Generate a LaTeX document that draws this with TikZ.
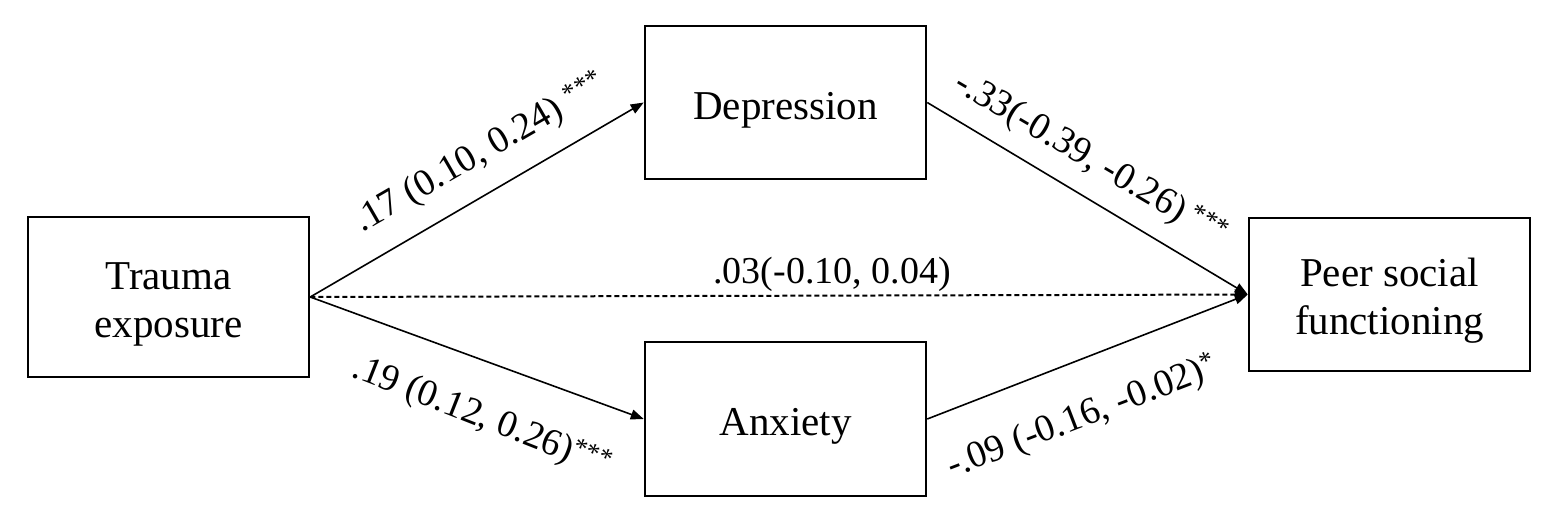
\documentclass[tikz,border=0pt]{standalone}
\usepackage{fontspec}
\setmainfont{Liberation Serif}
\usetikzlibrary{arrows.meta}
\begin{document}
\begin{tikzpicture}[x=1pt,y=-1pt,
  box/.style={draw, line width=2.5pt, inner sep=0pt, align=center,
    minimum width=281pt, text height=42pt, text depth=9pt,
    font=\fontsize{41}{48}\selectfont},
  box2/.style={box, text height=89pt},
  lbl/.style={inner sep=0pt, font=\fontsize{38}{45}\selectfont},
  arr/.style={line width=1.6pt, -{Triangle[length=13pt,width=10pt]}},
  dsh/.style={arr, line width=2pt, dash pattern=on 5pt off 3pt}]
\useasboundingbox (0,0) rectangle (1559,523);
\node[box2, minimum height=160pt] (trauma) at (168.5,297) {Trauma\\exposure};
\node[box, minimum height=153pt] (dep) at (785.5,102.5) {Depression};
\node[box, minimum height=154pt] (anx) at (785.5,419) {Anxiety};
\node[box2, minimum height=153pt] (peer) at (1389.5,294.5) {Peer social\\functioning};
\draw[arr] (trauma.east) -- (dep.west);
\draw[arr] (trauma.east) -- (anx.west);
\draw[dsh] (trauma.east) -- (peer.west);
\draw[arr] (dep.east) -- (peer.west);
\draw[arr] (anx.east) -- (peer.west);
\node[lbl, rotate=30, anchor=base west] (l1) at (362,233) {.17 (0.10, 0.24) \textsuperscript{***}};
\node[lbl, rotate=-21.5, anchor=base west] (l2) at (350,376) {.19 (0.12, 0.26)\textsuperscript{***}};
\node[lbl, anchor=base west] (l3) at (713,283) {.03(-0.10, 0.04)};
\node[lbl, rotate=-30.5, anchor=base west] (l4) at (952,89) {-.33(-0.39, -0.26)\,\textsuperscript{***}};
\node[lbl, rotate=21, anchor=base west] (l5) at (952,478) {-.09 (-0.16, -0.02)\textsuperscript{*}};
\end{tikzpicture}
\end{document}
